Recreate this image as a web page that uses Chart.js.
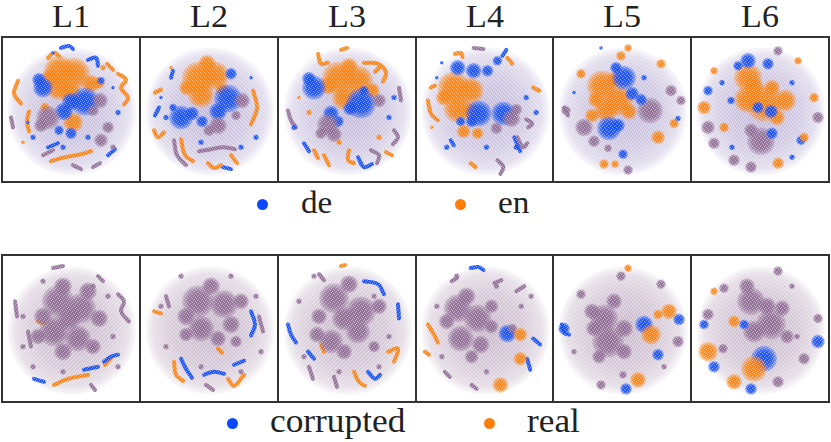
<!DOCTYPE html>
<html>
<head>
<meta charset="utf-8">
<script src="https://cdn.jsdelivr.net/npm/chart.js@4.4.1/dist/chart.umd.min.js"></script>
<style>
  html,body{margin:0;padding:0;background:#fff;}
  body{width:831px;height:442px;position:relative;overflow:hidden;font-family:"Liberation Serif","Times New Roman","Tinos","Noto Serif","DejaVu Serif",serif;color:#222;}
  .panel{position:absolute;box-sizing:border-box;border:2px solid #333;background:#fff;}
  .panel canvas{display:block;}
  .title{position:absolute;font-size:31px;line-height:1;text-align:center;width:80px;transform:scaleX(1.1);}
  .lg{position:absolute;line-height:1;white-space:nowrap;transform-origin:left center;transform:scaleX(1.07);}
  .dot{position:absolute;border-radius:50%;}
</style>
</head>
<body>
<script>
// ---------------- DATA ----------------
// Panel titles and legend entries
const titles = ['L1','L2','L3','L4','L5','L6'];
const legendLang = ['de','en'];
const legendCorr = ['corrupted','real'];

// Sparse point cloud of every embedding: [cx, cy, radius]
const cloudShape = [[69,74,64]];

// Dense clusters: [x, y, r, class]  class 0 = blue (de / corrupted), 1 = orange (en / real), 2 = mixed
const lang_L1_blobs = [[56,33,15,1],[71,36,16,1],[55,50,12,1],[88,46,9,1],[66,54,11,1],[47,40,9,1],[96,45,6,1],[70,85,10,1],[42,70,5,1],
  [40,50,10,0],[36,42,7,0],[82,64,14,0],[68,64,9,0],[61,74,9,0],[68,96,6,0],[56,93,5,0],[98,43,4,0],
  [45,80,12,2],[38,88,7,2],[97,63,8,2],[90,73,6,2],[98,103,7,2],[105,90,6,2],
  [30,100,3,0],[20,105,2,1],[110,110,3,2],[60,110,3,0],[85,100,3,0],[115,75,3,0],[25,85,2,0],[100,30,3,1],[50,15,2,0],[110,50,2,0]];
const lang_L2_blobs = [[57,40,16,1],[74,38,14,1],[60,57,13,1],[46,50,8,1],[66,26,9,1],[81,52,7,1],
  [87,61,14,0],[77,74,9,0],[90,36,6,0],[40,80,12,0],[51,76,7,0],[61,84,6,0],[32,70,4,0],
  [101,63,8,2],[77,88,9,2],[68,93,6,2],[95,78,5,2],
  [20,60,2,0],[25,80,3,0],[110,40,2,0],[115,100,3,0],[30,30,2,1],[100,110,3,0],[60,105,3,0]];
const lang_L3_blobs = [[59,40,16,1],[79,43,15,1],[65,60,12,1],[93,53,8,1],[49,48,9,1],[70,29,9,1],
  [35,50,12,0],[30,41,7,0],[82,66,15,0],[71,71,7,0],[85,53,5,0],[52,76,8,0],[59,84,6,0],
  [49,87,11,2],[55,97,8,2],[100,63,7,2],[42,96,6,2],
  [20,60,2,1],[15,90,3,0],[110,80,3,0],[100,100,3,1],[30,75,3,1],[115,60,3,0],[60,105,3,1]];
const lang_L4_blobs = [[37,50,16,1],[54,53,13,1],[41,71,14,1],[54,74,9,1],[47,94,7,1],[61,96,6,1],[27,60,8,1],
  [41,30,8,0],[57,33,8,0],[71,33,6,0],[81,23,5,0],[62,76,13,0],[55,84,6,0],[87,76,12,0],[44,84,5,0],
  [95,81,9,2],[100,72,6,2],[80,91,6,2],
  [20,40,2,0],[15,90,2,1],[110,60,3,0],[100,110,3,0],[30,110,3,0],[70,110,3,0],[120,75,3,0],[25,25,2,0]];
const lang_L5_blobs = [[48,48,15,1],[64,63,15,1],[52,72,12,1],[75,74,8,1],[42,62,8,1],[60,42,8,1],[38,78,7,1],
  [70,40,12,0],[78,56,7,0],[62,30,6,0],[55,91,12,0],[64,88,7,0],
  [30,90,9,2],[40,104,6,2],[96,73,13,2],[87,62,6,0],[104,100,7,1],
  [27,36,5,1],[67,18,5,1],[107,26,5,1],[74,10,4,1],[50,127,5,1],[61,127,4,1],[120,86,5,1],
  [117,53,6,2],[127,63,5,2],[12,73,5,2],[74,133,5,2],[54,111,4,2],
  [69,117,5,0],[124,81,3,0],[47,10,2,0],[90,40,3,0],[20,55,2,0]];
const lang_L6_blobs = [[56,40,14,1],[56,23,8,0],[76,26,6,0],[46,28,5,0],
  [72,66,18,1],[55,62,13,1],[93,63,11,1],[80,50,8,1],[62,50,10,1],[85,80,8,1],
  [66,70,6,0],[79,74,7,0],[16,53,5,0],[39,63,4,0],
  [69,104,14,2],[59,93,7,2],[80,96,6,0],[109,103,5,0],
  [12,70,7,1],[32,90,5,1],[16,90,7,2],[22,106,6,2],
  [86,126,6,1],[59,130,6,2],[42,123,6,2],[122,60,5,1],[112,100,5,1],[126,80,6,2],[86,13,5,2],[22,33,4,1],[106,23,4,1],
  [100,45,3,0],[30,45,3,0],[40,110,3,0],[100,120,3,0]];

const corr_L1_blobs = [[60,30,9,2],[85,35,9,2],[35,80,8,2],[90,90,8,2],[60,95,9,2],
  [55,45,16,2],[78,52,15,2],[51,75,15,2],[75,82,13,2],[96,62,9,2],[66,62,12,2],[40,60,9,2],
  [20,60,3,2],[30,110,3,2],[110,80,3,2],[115,110,3,2],[60,115,3,2],[90,30,3,2],[40,25,3,2],[105,40,3,2],[20,90,3,2]];
const corr_L2_blobs = [[70,30,9,2],[100,45,8,2],[45,78,7,2],[95,85,6,2],
  [57,45,16,2],[83,48,14,2],[60,72,13,2],[90,68,9,2],[77,82,8,2],[45,60,9,2],
  [20,50,3,2],[115,40,3,2],[25,90,3,2],[120,95,3,2],[60,110,3,2],[100,115,3,2],[40,20,3,2],[90,20,3,2]];
const corr_L3_blobs = [[70,28,9,2],[100,50,8,2],[38,78,8,2],[65,95,8,2],[95,90,6,2],
  [55,42,15,2],[82,55,15,2],[52,85,12,2],[79,75,12,2],[65,62,12,2],[40,60,8,2],
  [20,45,3,2],[110,80,3,2],[25,100,3,2],[100,110,3,2],[60,115,3,2],[35,20,3,2],[95,40,3,2]];
const corr_L4_blobs = [[30,65,8,2],[55,100,7,2],[75,50,7,2],
  [41,52,14,2],[61,62,14,2],[44,82,13,2],[64,88,9,2],[50,40,9,2],[75,70,7,2],
  [91,77,9,0],[96,72,5,2],[104,78,7,1],[104,102,7,1],[84,128,8,1],
  [20,50,3,2],[25,100,3,2],[70,115,3,2],[105,50,3,2],[40,20,3,2],[80,30,3,2],[115,40,3,2]];
const corr_L5_blobs = [[38,55,8,2],[70,95,8,2],[45,100,7,2],
  [50,62,14,2],[54,85,16,2],[70,72,9,2],[40,72,8,2],[60,45,8,2],
  [90,68,9,0],[97,78,10,1],[115,55,8,1],[84,123,8,1],
  [125,63,6,0],[10,72,6,0],[72,132,6,0],[104,98,6,0],
  [27,38,5,2],[67,20,5,2],[107,28,5,2],[124,85,6,2],[47,128,5,2],[69,118,4,2],[74,12,4,1],[104,58,5,1],[20,95,3,2],[110,110,3,2]];
const corr_L6_blobs = [[55,30,8,2],[90,52,8,2],[95,80,7,2],
  [59,45,14,2],[79,68,15,2],[62,75,11,2],[75,50,9,2],
  [72,102,13,0],[62,112,13,1],[42,125,8,1],[16,95,10,1],[42,65,6,1],
  [126,85,7,0],[22,110,6,0],[59,132,6,0],[12,68,5,0],[52,68,5,0],
  [16,58,6,2],[112,102,6,2],[86,125,6,2],[86,15,5,2],[126,62,5,2],[32,32,5,2],[31,92,5,2],[22,35,4,1],[100,30,3,2],[105,80,3,2]];

// Worm-like strands: [class, x1,y1, x2,y2, ...]
const lang_L1_strands = [[1,15,43,11,56,18,66],[1,115,36,123,42,118,50,125,60,121,67],[1,26,74,24,84,26,94],
  [1,48,124,62,120,78,117,88,114],[0,45,110,55,106],[2,40,118,50,113],[1,45,20,51,15,56,18],[0,58,10,66,8,70,11],
  [0,85,22,93,20,95,28],[2,90,130,97,126],[1,104,26,110,32],[2,8,80,10,90],[0,105,118,112,112],[2,70,128,78,132]];
const lang_L2_strands = [[1,112,53,116,70,110,87],[1,13,93,17,100,23,95],[0,32,33,30,40],[2,33,103,36,118,45,128],
  [1,40,102,44,118,52,124],[1,67,126,73,131,80,128],[2,58,114,70,112,82,110,94,112],[1,90,118,96,126],
  [1,14,55,20,52],[0,18,70,14,78],[0,82,130,90,132]];
const lang_L3_strands = [[1,39,16,42,26,49,25],[1,85,25,99,26,107,35,104,44],[2,120,50,122,63],[2,9,73,12,83,17,90],
  [1,35,113,39,121],[1,45,118,50,128],[0,79,120,85,130,93,127],[2,92,113,100,118,98,126],[1,70,113,69,123,75,126],
  [1,107,115,113,118],[2,115,93,119,100,114,107],[0,25,106,30,114],[1,62,12,68,10],[1,96,34,100,30]];
const lang_L4_strands = [[1,11,63,14,76,21,83],[1,38,16,44,15,46,19],[2,57,10,67,11],[1,91,20,96,26],[1,117,50,123,53],
  [2,110,82,116,86,112,90],[0,34,103,37,108],[1,54,126,59,130],[2,81,123,87,130,84,137],[2,101,100,107,110,111,106],
  [0,98,100,104,114],[1,14,50,18,48],[0,86,18,90,12]];
const lang_L5_strands = [[2,10,70,14,78]];
const lang_L6_strands = [];
const corr_L1_strands = [[1,51,128,65,122,85,118],[0,31,122,41,125],[0,81,113,95,110],[0,101,105,108,100,115,98],
  [1,102,108,108,102],[2,115,38,121,45,118,55,126,65],[1,35,65,41,67],[2,12,45,14,60],[2,25,75,28,90],
  [2,88,128,92,133],[2,50,12,60,10],[2,95,20,100,25]];
const corr_L2_strands = [[0,110,55,114,68,110,79],[0,40,102,45,112,51,121],[0,63,118,73,115,83,117],[0,93,108,103,104],
  [1,33,105,35,118,42,124],[1,87,122,93,129,103,118],[1,77,92,81,96],[1,13,55,20,57],[2,118,60,122,75],
  [2,25,40,28,50],[2,65,128,72,133]];
const corr_L3_strands = [[0,9,68,12,78,17,86],[0,119,48,120,62],[0,89,115,96,122,101,118],[0,29,95,35,102],
  [0,85,25,99,28,105,38],[1,75,115,80,125,86,129],[1,109,95,119,92,115,105],[1,42,88,45,95],[1,62,10,66,9],
  [2,30,110,34,122],[2,55,120,58,130],[2,40,18,45,24]];
const corr_L4_strands = [[0,54,12,62,11,67,14],[0,117,82,124,88],[0,111,102,114,113],[1,11,68,17,78,21,86],
  [2,35,25,40,22],[2,78,27,85,24],[2,100,35,108,30],[2,28,115,33,120],[2,55,128,60,132],[1,8,95,12,98]];
const corr_L5_strands = [[0,8,68,10,76,15,78]];
const corr_L6_strands = [];

// ---------------- RENDERING ----------------
const langBlobs = [lang_L1_blobs,lang_L2_blobs,lang_L3_blobs,lang_L4_blobs,lang_L5_blobs,lang_L6_blobs];
const langStrands = [lang_L1_strands,lang_L2_strands,lang_L3_strands,lang_L4_strands,lang_L5_strands,lang_L6_strands];
const corrBlobs = [corr_L1_blobs,corr_L2_blobs,corr_L3_blobs,corr_L4_blobs,corr_L5_blobs,corr_L6_blobs];
const corrStrands = [corr_L1_strands,corr_L2_strands,corr_L3_strands,corr_L4_strands,corr_L5_strands,corr_L6_strands];

const RGB = [[12,72,255],[255,126,10],[140,105,145]];
const rgba = (c,a)=>`rgba(${RGB[c][0]},${RGB[c][1]},${RGB[c][2]},${a})`;
const edges = [1,139,277,415,552,690,828];
const rows = [{top:36,h:147,blobs:langBlobs,strands:langStrands,cloud:[125,105,175]},
              {top:254,h:149,blobs:corrBlobs,strands:corrStrands,cloud:[140,105,145]}];

function el(tag, cls, css, txt){
  const e=document.createElement(tag); if(cls) e.className=cls;
  Object.assign(e.style, css||{}); if(txt!==undefined) e.textContent=txt;
  document.body.appendChild(e); return e;
}

// titles
titles.forEach((t,i)=>{
  const cx=(edges[i]+edges[i+1]+2)/2;
  el('div','title',{left:(cx-40)+'px',top:'1px'},t);
});

// legends
function legend(items, y, fontSize, dotXs, textXs){
  items.forEach((t,i)=>{
    const r=5.5;
    el('div','dot',{left:(dotXs[i]-r)+'px',top:(y-r)+'px',width:(2*r)+'px',height:(2*r)+'px',background:rgba(i,1)});
    el('div','lg',{left:textXs[i]+'px',top:(y - fontSize*0.838 + (fontSize*0.3))+'px',fontSize:fontSize+'px'},t);
  });
}
legend(legendLang, 204, 31, [262,460], [301,498]);
legend(legendCorr, 423, 33, [232,489], [270,527]);

// speckle texture, imitating the gaps between the individual points of each cluster
function speckle(){
  const t=document.createElement('canvas'); t.width=4; t.height=4;
  const g=t.getContext('2d'); g.fillStyle='rgba(255,255,255,0.45)';
  [[0,0],[2,1],[1,3],[3,2]].forEach(p=>g.fillRect(p[0],p[1],1,1));
  return t;
}
const speckTile = speckle();
const texturePlugin = {id:'texture', afterDatasetsDraw(chart){
  const ctx=chart.ctx; ctx.save();
  ctx.fillStyle=ctx.createPattern(speckTile,'repeat');
  ctx.fillRect(0,0,chart.width,chart.height); ctx.restore();
}};

function pix(ctx){
  const s=ctx.chart.scales, d=ctx.raw;
  if(!s.x||!s.y) return null;
  const x=s.x.getPixelForValue(d.x), y=s.y.getPixelForValue(d.y);
  if(!isFinite(x)||!isFinite(y)) return null;
  return [x,y,d.r];
}
function radial(ctx, stops, fallback){
  if(!ctx.raw) return fallback;
  const p=pix(ctx); if(!p) return fallback;
  const g=ctx.chart.ctx.createRadialGradient(p[0],p[1],0,p[0],p[1],p[2]);
  stops.forEach(s=>g.addColorStop(s[0],s[1]));
  return g;
}

rows.forEach((row,ri)=>{
  for(let i=0;i<6;i++){
    const left=edges[i], w=edges[i+1]-edges[i]+2;
    const p=el('div','panel',{left:left+'px',top:row.top+'px',width:w+'px',height:row.h+'px'});
    const cw=w-4, ch=row.h-4;
    const c=document.createElement('canvas'); c.width=cw; c.height=ch;
    c.style.width=cw+'px'; c.style.height=ch+'px'; p.appendChild(c);
    const cc=row.cloud;

    const datasets=[];
    datasets.push({type:'bubble',order:10,clip:false,
      data:cloudShape.map(s=>({x:s[0],y:s[1],r:s[2]})),
      backgroundColor:(ctx)=>radial(ctx,[[0,`rgba(${cc},0.46)`],[0.6,`rgba(${cc},0.34)`],[0.88,`rgba(${cc},0.22)`],[1,`rgba(${cc},0.05)`]],`rgba(${cc},0.25)`),
      borderWidth:0});
    row.strands[i].forEach(s=>{
      const pts=[]; for(let k=1;k<s.length;k+=2) pts.push({x:s[k],y:s[k+1]});
      datasets.push({type:'line',order:5,clip:false,data:pts,borderColor:rgba(s[0],0.9),borderWidth:4,
        tension:0.4,pointRadius:0,borderCapStyle:'round',borderJoinStyle:'round',fill:false});
    });
    const b=row.blobs[i];
    datasets.push({type:'bubble',order:1,clip:false,
      data:b.map(v=>({x:v[0],y:v[1],r:v[2],c:v[3]})),
      backgroundColor:(ctx)=>{
        const k=ctx.raw?ctx.raw.c:2;
        return radial(ctx,[[0,rgba(k,0.95)],[0.6,rgba(k,0.85)],[1,rgba(k,0.25)]],rgba(k,0.8));
      },borderWidth:0,hoverRadius:0});

    const chart=new Chart(c,{
      type:'bubble',
      data:{datasets},
      plugins:[texturePlugin],
      options:{responsive:false,animation:false,devicePixelRatio:1,
        layout:{padding:0,autoPadding:false},
        plugins:{legend:{display:false},tooltip:{enabled:false}},
        events:[],
        scales:{x:{type:'linear',display:false,min:0,max:136},
                y:{type:'linear',display:false,min:0,max:144,reverse:true}}}
    });
    chart.update('none');
  }
});
</script>
</body>
</html>
